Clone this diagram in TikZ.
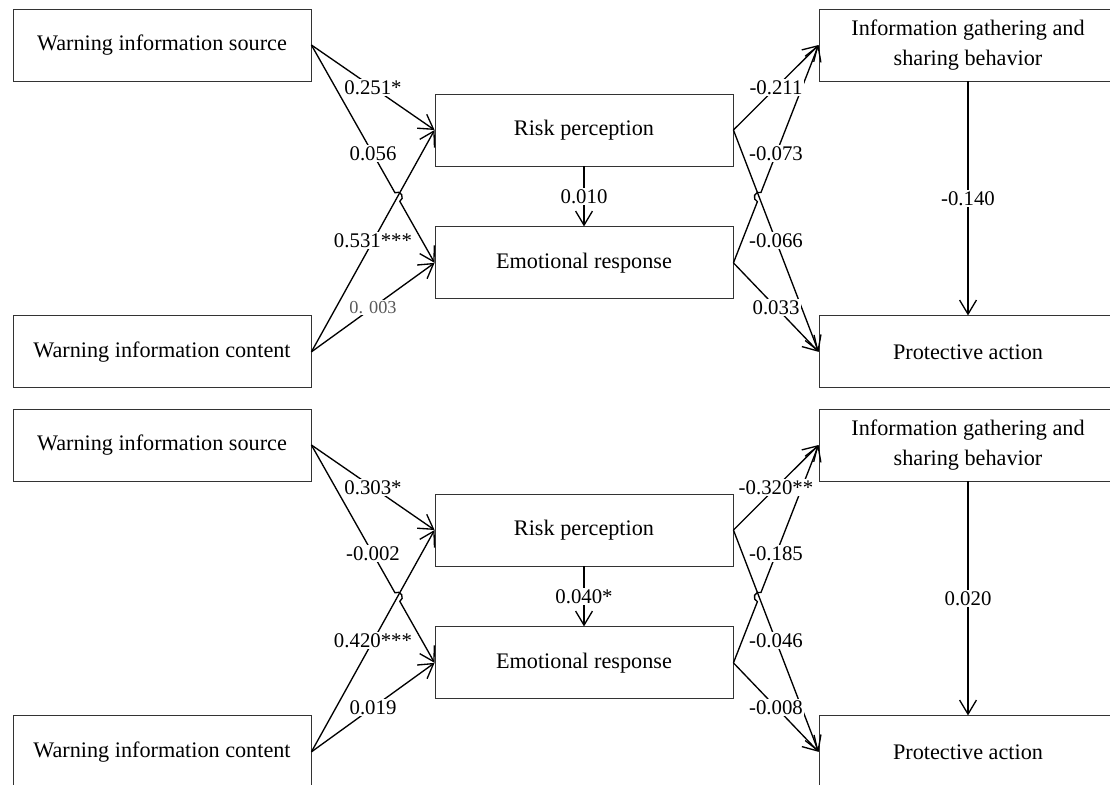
\documentclass[tikz,border=0pt]{standalone}
\usepackage{fontspec}
\setmainfont{Liberation Serif}
\usetikzlibrary{arrows.meta, positioning, calc}
\tikzstyle{block} = [rectangle, draw=black!80, line width=0.6pt, text centered, align=center, minimum width=7.45cm, minimum height=1.8cm, fill=white, font=\fontsize{15.8}{21.3}\selectfont]
\tikzstyle{effect} = [line width=0.95pt, -{Straight Barb[length=10pt, width=12pt]}, black]
\tikzstyle{coef} = [fill=white, inner sep=1pt, font=\fontsize{14.8}{17}\selectfont]
\tikzstyle{faint} = [coef, text=black!65, font=\fontsize{13}{15}\selectfont]

\begin{document}
\begin{tikzpicture}
	\useasboundingbox (0,0) rectangle (27.75,-19.6);

	% Model 1 - variables
	\node (wis1) [block] at (4.05,-1.125) {Warning information source};
	\node (wic1) [block, below=5.85cm of wis1] {Warning information content};
	\node (rp1) [block] at (14.6,-3.25) {Risk perception};
	\node (er1) [block, below=1.5cm of rp1] {Emotional response};
	\node (igs1) [block] at (24.2,-1.125) {Information gathering and\\sharing behavior};
	\node (pa1) [block, below=5.85cm of igs1] {Protective action};

	% Model 2 - variables
	\node (wis2) [block] at (4.05,-11.125) {Warning information source};
	\node (wic2) [block, below=5.85cm of wis2] {Warning information content};
	\node (rp2) [block] at (14.6,-13.25) {Risk perception};
	\node (er2) [block, below=1.5cm of rp2] {Emotional response};
	\node (igs2) [block] at (24.2,-11.125) {Information gathering and\\sharing behavior};
	\node (pa2) [block, below=5.85cm of igs2] {Protective action};

	% Crossings (line hops)
	\coordinate (hopl1) at (intersection of wis1.east--er1.west and wic1.east--rp1.west);
	\coordinate (hopr1) at (intersection of er1.east--igs1.west and rp1.east--pa1.west);
	\coordinate (hopl2) at (intersection of wis2.east--er2.west and wic2.east--rp2.west);
	\coordinate (hopr2) at (intersection of er2.east--igs2.west and rp2.east--pa2.west);

	% Model 1 - paths
	\draw[effect] let \p1 = ($(er1.west)-(wis1.east)$), \n1 = {atan2(\y1,\x1)} in
		(wis1.east) -- ($(hopl1)!3.5pt!(wis1.east)$) arc[start angle=\n1+180, delta angle=-180, radius=3.5pt] -- (er1.west);
	\draw[effect] let \p1 = ($(igs1.west)-(er1.east)$), \n1 = {atan2(\y1,\x1)} in
		(er1.east) -- ($(hopr1)!3.5pt!(er1.east)$) arc[start angle=\n1+180, delta angle=-180, radius=3.5pt] -- (igs1.west);
	\node (c12) [coef] at ($(wis1.east)!0.5!(er1.west)$) {0.056};
	\node (c22) [coef] at ($(er1.east)!0.5!(igs1.west)$) {-0.073};
	\draw[effect] (wis1.east) -- node[coef] (c11) {0.251*} (rp1.west);
	\draw[effect] (wic1.east) -- node[coef] (c13) {0.531***} (rp1.west);
	\draw[effect] (wic1.east) -- node[faint] (c14) {0. 003} (er1.west);
	\draw[effect] (rp1) -- node[coef] (c15) {0.010} (er1);
	\draw[effect] (rp1.east) -- node[coef] (c21) {-0.211} (igs1.west);
	\draw[effect] (rp1.east) -- node[coef] (c23) {-0.066} (pa1.west);
	\draw[effect] (er1.east) -- node[coef] (c24) {0.033} (pa1.west);
	\draw[effect] (igs1) -- node[coef] (c25) {-0.140} (pa1);

	% Model 2 - paths
	\draw[effect] let \p1 = ($(er2.west)-(wis2.east)$), \n1 = {atan2(\y1,\x1)} in
		(wis2.east) -- ($(hopl2)!3.5pt!(wis2.east)$) arc[start angle=\n1+180, delta angle=-180, radius=3.5pt] -- (er2.west);
	\draw[effect] let \p1 = ($(igs2.west)-(er2.east)$), \n1 = {atan2(\y1,\x1)} in
		(er2.east) -- ($(hopr2)!3.5pt!(er2.east)$) arc[start angle=\n1+180, delta angle=-180, radius=3.5pt] -- (igs2.west);
	\node (d12) [coef] at ($(wis2.east)!0.5!(er2.west)$) {-0.002};
	\node (d22) [coef] at ($(er2.east)!0.5!(igs2.west)$) {-0.185};
	\draw[effect] (wis2.east) -- node[coef] (d11) {0.303*} (rp2.west);
	\draw[effect] (wic2.east) -- node[coef] (d13) {0.420***} (rp2.west);
	\draw[effect] (wic2.east) -- node[coef] (d14) {0.019} (er2.west);
	\draw[effect] (rp2) -- node[coef] (d15) {0.040*} (er2);
	\draw[effect] (rp2.east) -- node[coef] (d21) {-0.320**} (igs2.west);
	\draw[effect] (rp2.east) -- node[coef] (d23) {-0.046} (pa2.west);
	\draw[effect] (er2.east) -- node[coef] (d24) {-0.008} (pa2.west);
	\draw[effect] (igs2) -- node[coef] (d25) {0.020} (pa2);

\end{tikzpicture}
\end{document}
